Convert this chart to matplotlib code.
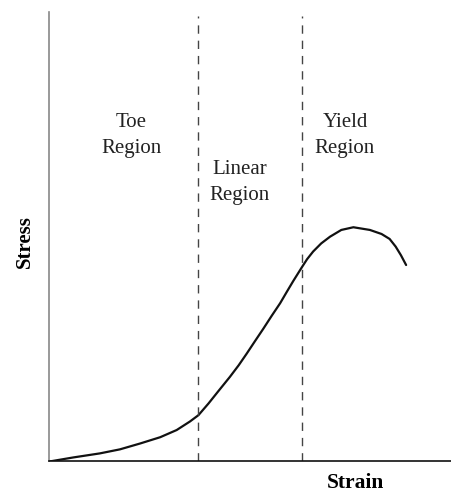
import matplotlib.pyplot as plt

# stress-strain curve (arbitrary units, 0-100)
strain = [0, 5.9, 12.5, 17.5, 22.5, 27.5, 31.6, 34.9, 37.0, 39.5, 42.0, 44.8,
          47.0, 49.0, 51.0, 53.1, 55.2, 57.3, 59.0, 60.6, 62.7, 64.0, 65.5,
          67.5, 69.7, 72.5, 75.5, 79.6, 82.5, 84.5, 86.0, 87.3, 88.6]
stress = [0, 0.9, 1.8, 2.7, 4.0, 5.4, 7.0, 8.9, 10.3, 12.9, 15.7, 18.8,
          21.4, 24.0, 26.7, 29.5, 32.4, 35.2, 37.8, 40.2, 43.2, 45.0, 46.7,
          48.5, 50.0, 51.5, 52.1, 51.5, 50.6, 49.5, 47.8, 45.9, 43.7]

boundaries = [36.9, 62.7]
region_labels = ["Toe\nRegion", "Linear\nRegion", "Yield\nRegion"]
label_x = [20.4, 47.3, 73.4]
label_y = [72.5, 62.1, 72.5]

plt.rcParams['font.family'] = ['Liberation Serif', 'DejaVu Serif']

fig = plt.figure(figsize=(4.52, 4.93), dpi=100)
ax = fig.add_axes([0.1095, 0.0639, 0.8905, 0.912])

ax.plot(strain, stress, color='#111111', linewidth=1.6,
        solid_capstyle='round', solid_joinstyle='round')

for b in boundaries:
    ax.plot([b, b], [0, 99], color='#444444', linewidth=1.0, linestyle=(0, (6, 5)))

for t, x, y in zip(region_labels, label_x, label_y):
    ax.text(x, y, t, ha='center', va='center', fontsize=15, color='#222222',
            linespacing=1.5)

ax.set_xlim(0, 100)
ax.set_ylim(0, 100)
ax.set_xticks([])
ax.set_yticks([])
ax.spines['top'].set_visible(False)
ax.spines['right'].set_visible(False)
ax.spines['left'].set_color('#888888')
ax.spines['left'].set_linewidth(1.2)
ax.spines['bottom'].set_color('#111111')
ax.spines['bottom'].set_linewidth(1.2)

fig.text(25 / 452, 1 - 242 / 493, "Stress", rotation=90, ha='center', va='center',
         fontsize=15, fontweight='bold')
fig.text(356 / 452, 1 - 483 / 493, "Strain", ha='center', va='center',
         fontsize=15.5, fontweight='bold')

fig.savefig("out.png", dpi=100)
